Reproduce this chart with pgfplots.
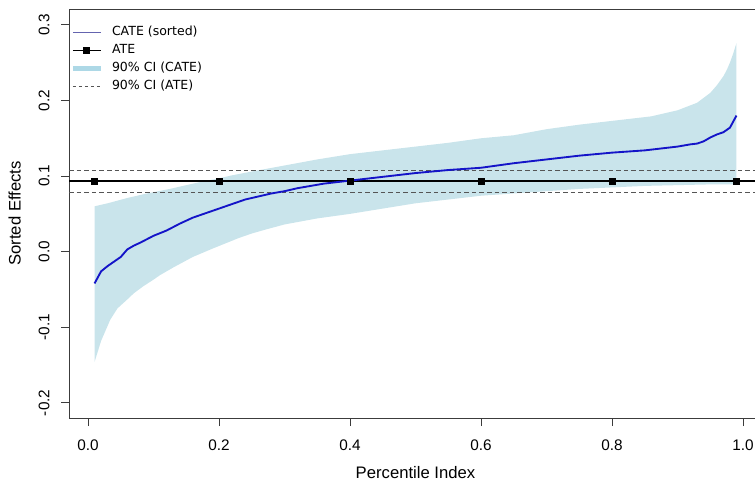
\documentclass[border=0pt]{standalone}
\usepackage{pgfplots}
\usepackage{pgfplotstable}
\pgfplotsset{compat=1.18}
\usepgfplotslibrary{fillbetween}
\usepackage{fontspec}
\setmainfont{Liberation Sans}
\newfontfamily\legfont{DejaVu Sans}
\definecolor{cifill}{RGB}{201,228,235}
\definecolor{cilight}{RGB}{173,216,230}
\definecolor{catecol}{RGB}{20,20,200}
\definecolor{catelegend}{RGB}{100,100,175}
\definecolor{dashcol}{RGB}{85,85,85}
\definecolor{axcol}{RGB}{60,60,60}

\pgfplotstableread{
x y
0.01 -0.042
0.02 -0.026
0.03 -0.019
0.04 -0.013
0.05 -0.007
0.06 0.003
0.07 0.008
0.08 0.012
0.10 0.021
0.12 0.028
0.14 0.037
0.16 0.045
0.18 0.051
0.20 0.057
0.22 0.063
0.24 0.069
0.26 0.073
0.28 0.077
0.30 0.080
0.32 0.084
0.34 0.087
0.36 0.090
0.38 0.092
0.40 0.094
0.45 0.099
0.50 0.104
0.55 0.108
0.60 0.111
0.65 0.117
0.70 0.122
0.75 0.127
0.80 0.131
0.85 0.134
0.88 0.137
0.90 0.139
0.92 0.142
0.93 0.143
0.94 0.146
0.95 0.151
0.96 0.155
0.97 0.158
0.98 0.164
0.99 0.180
}\cate

\pgfplotstableread{
x y
0.01 0.060
0.03 0.064
0.06 0.071
0.09 0.077
0.125 0.083
0.15 0.088
0.176 0.093
0.20 0.097
0.22 0.101
0.25 0.106
0.30 0.114
0.35 0.122
0.40 0.129
0.45 0.134
0.50 0.139
0.55 0.144
0.60 0.150
0.65 0.154
0.70 0.162
0.75 0.168
0.80 0.173
0.86 0.179
0.90 0.187
0.93 0.197
0.95 0.210
0.96 0.220
0.97 0.232
0.975 0.240
0.98 0.250
0.985 0.262
0.99 0.276
}\ciup

\pgfplotstableread{
x y
0.01 -0.146
0.02 -0.118
0.023 -0.112
0.034 -0.090
0.045 -0.075
0.059 -0.064
0.07 -0.055
0.084 -0.046
0.10 -0.037
0.11 -0.031
0.13 -0.021
0.16 -0.007
0.19 0.004
0.21 0.011
0.23 0.018
0.25 0.024
0.27 0.029
0.30 0.036
0.35 0.044
0.40 0.050
0.45 0.057
0.50 0.064
0.55 0.069
0.60 0.074
0.65 0.077
0.70 0.080
0.75 0.083
0.80 0.085
0.85 0.087
0.90 0.088
0.95 0.089
0.99 0.089
}\cilo

\begin{document}
\begin{tikzpicture}
\begin{axis}[
  scale only axis, width=519.75pt, height=306.75pt,
  xmin=-0.029, xmax=1.029, ymin=-0.22, ymax=0.321,
  xtick={0,0.2,0.4,0.6,0.8,1}, ytick={-0.2,-0.1,0,0.1,0.2,0.3},
  tick align=outside, tick pos=left, major tick length=6pt,
  axis line style={axcol, line width=0.7pt},
  every tick/.style={axcol, line width=0.7pt},
  xticklabel style={font=\fontsize{11.5}{13}\selectfont, anchor=north},
  yticklabel style={font=\fontsize{11.5}{13}\selectfont, rotate=90, anchor=south},
  xticklabel shift=6.5pt, yticklabel shift=5pt,
  /pgf/number format/fixed, /pgf/number format/fixed zerofill,
  /pgf/number format/precision=1, /pgf/number format/assume math mode=true,
  xlabel={Percentile Index}, ylabel={Sorted Effects},
  xlabel style={font=\fontsize{12.5}{15}\selectfont, at={(axis description cs:0.5,-0.106)}, anchor=north},
  ylabel style={font=\fontsize{12.5}{15}\selectfont, at={(axis description cs:-0.094,0.5)}, anchor=north, rotate=0},
  legend style={at={(0,1)}, anchor=north west, xshift=0.75pt, yshift=-11.2pt, draw=none, fill=none,
    font=\legfont\fontsize{9.4}{11}\selectfont, row sep=1.5pt, column sep=5pt, inner sep=0pt,
    nodes={inner sep=1.5pt, text height=7pt, text depth=2pt}},
  legend cell align=left,
  legend image code/.code={\draw[mark repeat=2, mark phase=2, #1] plot coordinates {(0pt,0pt) (10.5pt,0pt) (21pt,0pt)};},
]
\addlegendimage{catelegend, line width=0.6pt}
\addlegendentry{CATE (sorted)}
\addlegendimage{black, line width=0.8pt, mark=square*, mark size=2.3pt, mark options={solid}}
\addlegendentry{ATE}
\addlegendimage{cilight, line width=3.8pt}
\addlegendentry{90\% CI (CATE)}
\addlegendimage{dashcol, line width=0.6pt, dash pattern=on 2.5pt off 2pt}
\addlegendentry{90\% CI (ATE)}

\addplot[name path=upper, draw=none, forget plot] table {\ciup};
\addplot[name path=lower, draw=none, forget plot] table {\cilo};
\addplot[cifill, forget plot] fill between[of=upper and lower];
\addplot[dashcol, line width=0.6pt, dash pattern=on 3.5pt off 2.2pt, forget plot] coordinates {(-0.029,0.108) (1.029,0.108)};
\addplot[dashcol, line width=0.6pt, dash pattern=on 3.5pt off 2.2pt, forget plot] coordinates {(-0.029,0.0785) (1.029,0.0785)};
\addplot[black, line width=0.8pt, forget plot] coordinates {(-0.029,0.0935) (1.029,0.0935)};
\addplot[only marks, mark=square*, mark size=2.3pt, black, forget plot] coordinates {(0.01,0.0935) (0.2,0.0935) (0.4,0.0935) (0.6,0.0935) (0.8,0.0935) (0.99,0.0935)};
\addplot[catecol, line width=1.4pt, forget plot] table {\cate};
\end{axis}
\pgfresetboundingbox
\path[use as bounding box] (-51.75pt,-47.25pt) rectangle (514.5pt,313.5pt);
\end{tikzpicture}
\end{document}
